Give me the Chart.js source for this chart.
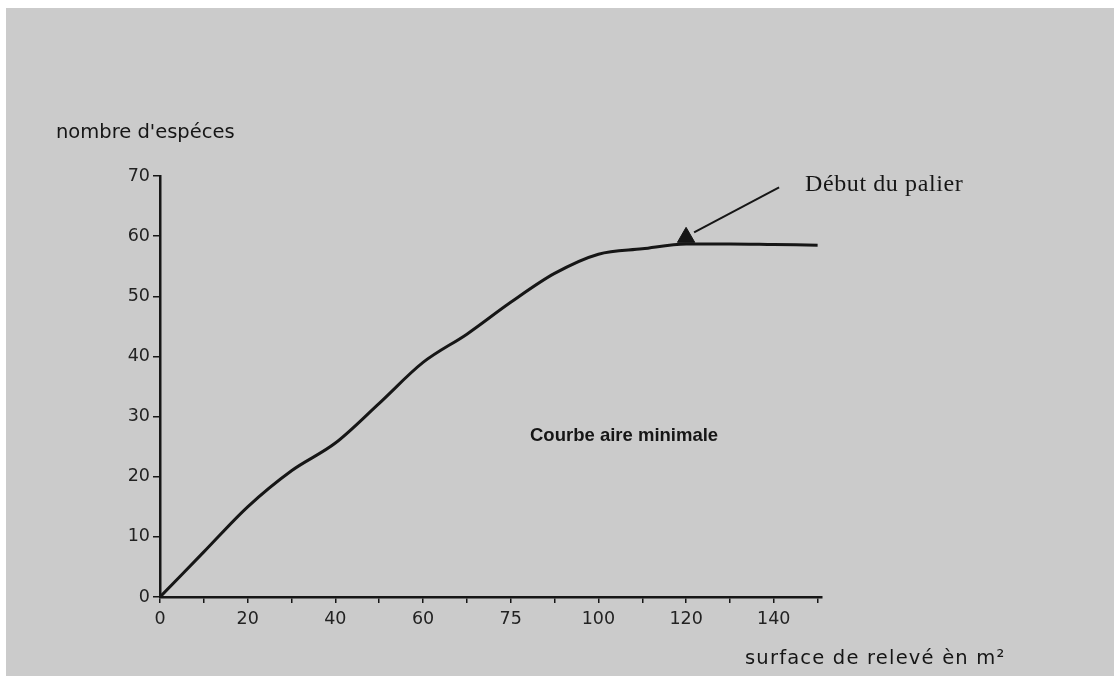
<!DOCTYPE html>
<html>
<head>
<meta charset="utf-8">
<script src="https://cdn.jsdelivr.net/npm/chart.js@4.4.1/dist/chart.umd.min.js"></script>
<style>
  html, body { margin: 0; padding: 0; background: #fff; }
  canvas { display: block; }
</style>
</head>
<body>
<canvas id="aireChart" width="1114" height="676"></canvas>
<script>
// surface de relevé (m²) et nombre d'espèces
const surfaces = [0, 10, 20, 30, 40, 50, 60, 70, 80, 90, 100, 110, 120, 130, 140, 150];
const nbEspeces = [0, 7.5, 15, 21, 25.6, 32.2, 39, 43.7, 49, 53.8, 57, 57.9, 58.7, 58.7, 58.6, 58.5];
const xTickLabels = ['0', '', '20', '', '40', '', '60', '', '75', '', '100', '', '120', '', '140', ''];
const yTickValues = [0, 10, 20, 30, 40, 50, 60, 70];
const palierX = [120];
const palierY = [59.8];

const tickFont = { family: 'DejaVu Sans', size: 17.5 };
const ink = '#161616';

const decorPlugin = {
  id: 'decor',
  beforeDraw(chart) {
    const c = chart.ctx;
    c.save();
    c.fillStyle = '#ffffff';
    c.fillRect(0, 0, chart.width, chart.height);
    c.fillStyle = '#cbcbcb';
    c.fillRect(6, 8, chart.width - 6, chart.height - 8);
    c.restore();
  },
  afterDraw(chart) {
    const c = chart.ctx;
    const xs = chart.scales.x, ys = chart.scales.y;
    c.save();
    c.fillStyle = ink;
    c.textBaseline = 'middle';
    c.textAlign = 'left';

    // titres des axes
    c.font = '19.5px "DejaVu Sans"';
    c.fillText("nombre d'espéces", 56, 133);
    c.letterSpacing = '1.2px';
    c.fillText('surface de relevé èn m²', 745, 659);
    c.letterSpacing = '0px';

    // titre de la courbe
    c.font = 'bold 18.5px "Liberation Sans"';
    c.fillText('Courbe aire minimale', 530, 436);

    // annotation du palier
    c.font = '24px "Liberation Serif"';
    c.letterSpacing = '0.6px';
    c.fillText('Début du palier', 805, 185);

    const px = xs.getPixelForValue(palierX[0]);
    const py = ys.getPixelForValue(palierY[0]);
    c.strokeStyle = ink;
    c.lineWidth = 2;
    c.beginPath();
    c.moveTo(px + 8, py - 5);
    c.lineTo(px + 93, py - 50);
    c.stroke();
    c.restore();
  }
};

new Chart(document.getElementById('aireChart'), {
  type: 'line',
  data: {
    datasets: [
      {
        data: surfaces.map((s, i) => ({ x: s, y: nbEspeces[i] })),
        borderColor: ink,
        borderWidth: 3,
        pointRadius: 0,
        cubicInterpolationMode: 'monotone',
        fill: false
      },
      {
        type: 'scatter',
        data: palierX.map((s, i) => ({ x: s, y: palierY[i] })),
        pointStyle: 'triangle',
        pointRadius: 10,
        backgroundColor: ink,
        borderColor: ink,
        borderWidth: 1
      }
    ]
  },
  options: {
    responsive: false,
    animation: false,
    layout: {
      autoPadding: false,
      padding: { left: 0, top: 176, right: 292, bottom: 0 }
    },
    plugins: {
      legend: { display: false },
      tooltip: { enabled: false }
    },
    scales: {
      x: {
        type: 'linear',
        min: 0,
        max: 151,
        afterBuildTicks: s => { s.ticks = surfaces.map(v => ({ value: v })); },
        afterFit: s => { s.height = 79; },
        ticks: {
          autoSkip: false,
          maxRotation: 0,
          padding: 6,
          color: '#222',
          font: tickFont,
          callback: (v, i) => xTickLabels[i]
        },
        grid: { drawOnChartArea: false, drawTicks: true, tickLength: 6, color: ink, lineWidth: 1.5 },
        border: { display: true, color: ink, width: 2.5 }
      },
      y: {
        min: 0,
        max: 70,
        afterBuildTicks: s => { s.ticks = yTickValues.map(v => ({ value: v })); },
        afterFit: s => { s.width = 160; },
        ticks: {
          padding: 3,
          color: '#222',
          font: tickFont
        },
        grid: { drawOnChartArea: false, drawTicks: true, tickLength: 7, color: ink, lineWidth: 1.5 },
        border: { display: true, color: ink, width: 2.5 }
      }
    }
  },
  plugins: [decorPlugin]
});
</script>
</body>
</html>
